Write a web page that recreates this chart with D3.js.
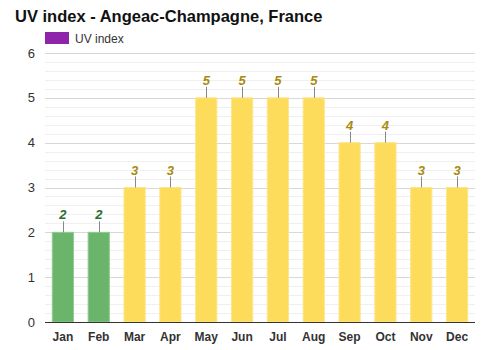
<!DOCTYPE html>
<html><head><meta charset="utf-8">
<script src="https://cdn.jsdelivr.net/npm/d3@7"></script>
<style>body{margin:0;background:#fff}svg{display:block;font-family:Arial,"Liberation Sans",sans-serif}</style>
</head><body><svg id="c" width="500" height="350"></svg>
<script>
const months = ["Jan","Feb","Mar","Apr","May","Jun","Jul","Aug","Sep","Oct","Nov","Dec"];
const uvValues = [2,2,3,3,5,5,5,5,4,4,3,3];
const yTicks = [0,1,2,3,4,5,6];

const svg = d3.select("#c");
const m = {l:45, r:25, t:53, b:28};
const W = 500, H = 350;
const x = d3.scaleBand().domain(months).range([m.l, W - m.r]).paddingInner(0.38).paddingOuter(0.19);
const y = d3.scaleLinear().domain([0,6]).range([H - m.b, m.t]);

const minor = d3.range(0, 6.001, 0.2).filter(v => Math.abs(v - Math.round(v)) > 1e-6);
svg.append("g").selectAll("line").data(minor).join("line")
  .attr("x1", m.l).attr("x2", W - m.r)
  .attr("y1", d => Math.round(y(d)) + 0.5).attr("y2", d => Math.round(y(d)) + 0.5)
  .attr("stroke", "#f0f0f0").attr("stroke-width", 1);
svg.append("g").selectAll("line").data(yTicks.slice(1)).join("line")
  .attr("x1", m.l).attr("x2", W - m.r)
  .attr("y1", d => Math.round(y(d)) + 0.5).attr("y2", d => Math.round(y(d)) + 0.5)
  .attr("stroke", "#d8d8d8").attr("stroke-width", 1);

svg.append("g").selectAll("text").data(yTicks).join("text")
  .attr("x", 35).attr("y", d => y(d) + 4.5).attr("text-anchor", "end")
  .attr("font-size", 13).attr("fill", "#333").text(d => d);

const col = v => v <= 2 ? {fill:"#6ab46c", stroke:"#8fcc90", lab:"#2b6e2b"} : {fill:"#fddc5c", stroke:"#fde68a", lab:"#a88a12"};

const bars = svg.append("g").selectAll("g").data(months.map((mo,i)=>({mo, v:uvValues[i]}))).join("g");
bars.append("rect")
  .attr("x", d => x(d.mo) + 0.5).attr("width", x.bandwidth() - 1)
  .attr("y", d => y(d.v)).attr("height", d => y(0) - y(d.v))
  .attr("fill", d => col(d.v).fill).attr("stroke", d => col(d.v).stroke).attr("stroke-width", 1);
bars.append("line")
  .attr("x1", d => Math.round(x(d.mo) + x.bandwidth()/2) + 0.5).attr("x2", d => Math.round(x(d.mo) + x.bandwidth()/2) + 0.5)
  .attr("y1", d => y(d.v) - 11).attr("y2", d => y(d.v))
  .attr("stroke", "#888").attr("stroke-width", 1);
bars.append("text")
  .attr("x", d => x(d.mo) + x.bandwidth()/2).attr("y", d => y(d.v) - 13)
  .attr("text-anchor", "middle").attr("font-size", 13).attr("font-weight", "bold").attr("font-style", "italic")
  .attr("fill", d => col(d.v).lab).text(d => d.v);

svg.append("line").attr("x1", m.l).attr("x2", W - m.r).attr("y1", y(0) + 0.5).attr("y2", y(0) + 0.5)
  .attr("stroke", "#333").attr("stroke-width", 1.2);

svg.append("g").selectAll("text").data(months).join("text")
  .attr("x", d => x(d) + x.bandwidth()/2).attr("y", 341).attr("text-anchor", "middle")
  .attr("font-size", 12).attr("font-weight", "bold").attr("fill", "#333").text(d => d);

svg.append("text").attr("x", 15).attr("y", 22).attr("font-size", 16.5).attr("font-weight", "bold").attr("fill", "#111")
  .text("UV index - Angeac-Champagne, France");
svg.append("rect").attr("x", 45).attr("y", 32).attr("width", 24).attr("height", 12).attr("fill", "#8e24aa");
svg.append("text").attr("x", 75).attr("y", 43).attr("font-size", 12).attr("fill", "#333").text("UV index");
</script></body></html>
